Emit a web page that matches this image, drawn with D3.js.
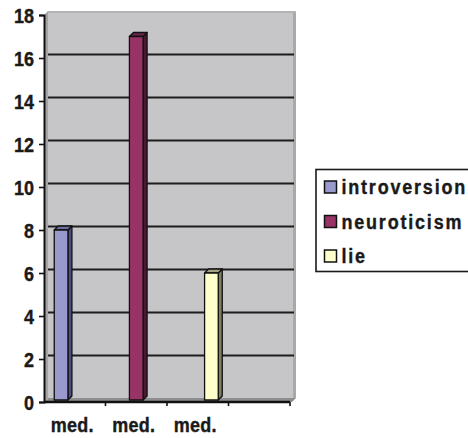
<!DOCTYPE html>
<html>
<head>
<meta charset="utf-8">
<script src="https://cdn.jsdelivr.net/npm/d3@7"></script>
<style>
  html, body { margin: 0; padding: 0; background: #fff; }
  svg { display: block; font-family: "Liberation Sans", Arial, sans-serif; font-weight: bold; }
  svg text { stroke: #1a1a1a; stroke-width: 0.35px; }
</style>
</head>
<body>
<svg id="chart" width="468" height="438"></svg>
<script>
// Category labels (the fourth slot carries no label)
const categories = ["med.", "med.", "med.", ""];
// Series names, one value per category (null = no column)
const seriesNames = ["introversion", "neuroticism", "lie"];
const introversion = [8, null, null, null];
const neuroticism  = [null, 17, null, null];
const lie          = [null, null, 6, null];
// Value axis ticks
const yTicks = [0, 2, 4, 6, 8, 10, 12, 14, 16, 18];

const seriesValues = [introversion, neuroticism, lie];
const palette = {
  introversion: { front: "#9999cc", side: "#4d4d85", top: "#6f6fa3" },
  neuroticism:  { front: "#993366", side: "#4a1a33", top: "#6b2549" },
  lie:          { front: "#ffffcc", side: "#7d7d62", top: "#a3a384" }
};

// Labels are drawn slightly taller than wide
const stretch = 1.13;

const svg = d3.select("#chart");

// Front plane of the plot and 3D depth offset
const plotLeft = 44, plotRight = 290, plotBottom = 402, plotTop = 15;
const dx = 4, dy = -4;

const y = d3.scaleLinear().domain([0, 18]).range([plotBottom, plotTop]);
const x0 = d3.scaleBand()
  .domain(d3.range(categories.length))
  .range([plotLeft, plotRight])
  .paddingInner(1 / 3)
  .paddingOuter(1 / 6);
const x1 = d3.scaleBand()
  .domain(seriesNames)
  .range([0, x0.bandwidth()]);
const step = x0.step();

// Back wall
const wall = svg.append("g");
wall.append("rect")
  .attr("x", plotLeft + dx).attr("y", y(18) + dy)
  .attr("width", plotRight - plotLeft).attr("height", plotBottom - y(18))
  .attr("fill", "#c6c6c8");
wall.append("rect")
  .attr("x", plotRight + dx - 1).attr("y", y(18) + dy)
  .attr("width", 3).attr("height", plotBottom - y(18))
  .attr("fill", "#a9a9ab");
wall.append("rect")
  .attr("x", plotLeft + dx).attr("y", y(18) + dy)
  .attr("width", plotRight - plotLeft + 2).attr("height", 2)
  .attr("fill", "#b3b3b5");
// Side wall and floor
wall.append("polygon")
  .attr("points", [[plotLeft, y(18)], [plotLeft + dx, y(18) + dy], [plotLeft + dx, plotBottom + dy], [plotLeft, plotBottom]].join(" "))
  .attr("fill", "#a4a4a6");
wall.append("polygon")
  .attr("points", [[plotLeft, plotBottom], [plotLeft + dx, plotBottom + dy], [plotRight + dx + 2, plotBottom + dy], [plotRight + 2, plotBottom]].join(" "))
  .attr("fill", "#8e8e90");

// Gridlines on the back wall
svg.append("g")
  .selectAll("line")
  .data(yTicks.filter(v => v > 0 && v < 18))
  .join("line")
  .attr("x1", plotLeft + dx).attr("x2", plotRight + dx)
  .attr("y1", d => y(d) + dy + 0.5).attr("y2", d => y(d) + dy + 0.5)
  .attr("stroke", "#1c1c1c").attr("stroke-width", 2.2);

// Value axis
const yAxis = d3.axisLeft(y).tickValues(yTicks).tickSize(5).tickPadding(5);
const gy = svg.append("g").attr("transform", `translate(${plotLeft},0)`).call(yAxis);
gy.select(".domain").attr("stroke", "#111").attr("stroke-width", 2);
gy.selectAll(".tick line").attr("stroke", "#111").attr("stroke-width", 1.6);
gy.selectAll(".tick text")
  .attr("fill", "#1a1a1a")
  .style("font-size", "18px")
  .style("font-weight", "bold")
  .attr("dy", "0.36em")
  .attr("transform", `scale(1,${stretch})`);

// Category axis: ticks on band boundaries, labels centred in bands
const bounds = d3.range(categories.length + 1).map(i => plotLeft + i * step);
const gx = svg.append("g");
gx.append("line")
  .attr("x1", plotLeft).attr("x2", plotRight)
  .attr("y1", plotBottom).attr("y2", plotBottom)
  .attr("stroke", "#111").attr("stroke-width", 2.5);
gx.selectAll("line.tk")
  .data(bounds.slice(1))
  .join("line").attr("class", "tk")
  .attr("x1", d => d).attr("x2", d => d)
  .attr("y1", plotBottom).attr("y2", plotBottom + 4)
  .attr("stroke", "#111").attr("stroke-width", 1.6);
gx.selectAll("text")
  .data(categories)
  .join("text")
  .attr("transform", (d, i) => `translate(${plotLeft + (i + 0.5) * step - 2.5},431.5) scale(1,${stretch})`)
  .attr("text-anchor", "middle")
  .attr("fill", "#1a1a1a")
  .style("font-size", "18px")
  .style("letter-spacing", "0.3px")
  .text(d => d);

// 3D columns
const bars = [];
seriesNames.forEach((name, s) => {
  seriesValues[s].forEach((v, i) => {
    if (v != null) bars.push({ name, i, v });
  });
});
const gb = svg.append("g");
bars.forEach(b => {
  const c = palette[b.name];
  const bx = x0(b.i) + x1(b.name);
  const w = x1.bandwidth();
  const t = y(b.v);
  const base = plotBottom - 2;
  const g = gb.append("g").attr("stroke", "#111").attr("stroke-width", 1.3).attr("stroke-linejoin", "round");
  g.append("polygon")
    .attr("points", [[bx + w, t], [bx + w + dx, t + dy], [bx + w + dx, base + dy], [bx + w, base]].join(" "))
    .attr("fill", c.side);
  g.append("polygon")
    .attr("points", [[bx, t], [bx + dx, t + dy], [bx + w + dx, t + dy], [bx + w, t]].join(" "))
    .attr("fill", c.top);
  g.append("rect")
    .attr("x", bx).attr("y", t)
    .attr("width", w).attr("height", base - t)
    .attr("fill", c.front);
});

// Legend
const lg = svg.append("g");
lg.append("rect")
  .attr("x", 316).attr("y", 169.5)
  .attr("width", 170).attr("height", 102)
  .attr("fill", "#fff").attr("stroke", "#1a1a1a").attr("stroke-width", 1.6);
const rowY = d3.scalePoint().domain(seriesNames).range([187, 256]);
const items = lg.selectAll("g.item").data(seriesNames).join("g").attr("class", "item")
  .attr("transform", d => `translate(324.5,${rowY(d)})`);
items.append("rect")
  .attr("x", 0).attr("y", -6).attr("width", 12).attr("height", 12)
  .attr("fill", d => palette[d].front)
  .attr("stroke", "#111").attr("stroke-width", 1.5);
items.append("text")
  .attr("transform", `translate(17,0) scale(1,${stretch})`)
  .attr("dy", "0.36em")
  .attr("fill", "#1a1a1a")
  .style("font-size", "18px")
  .style("letter-spacing", "1.8px")
  .text(d => d);
</script>
</body>
</html>
